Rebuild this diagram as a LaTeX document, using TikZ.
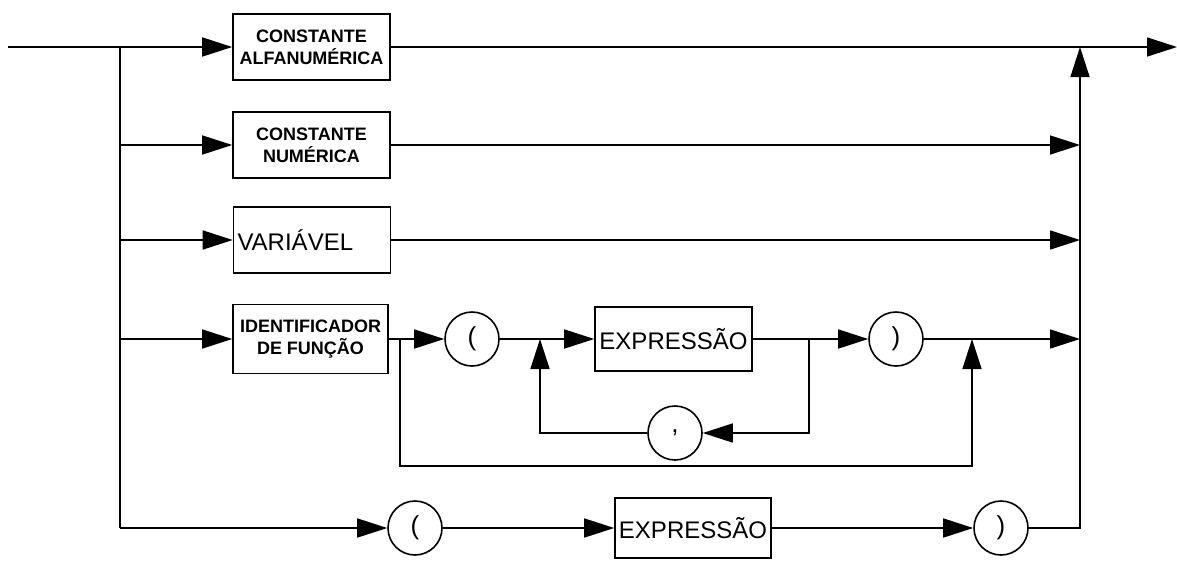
\documentclass[tikz,border=0pt]{standalone}
\usepackage{fontspec}
\setmainfont{Liberation Sans}
\usetikzlibrary{arrows.meta}
\begin{document}
\begin{tikzpicture}[x=1pt,y=-1pt,line width=1.6pt,
  box/.style={draw,rectangle,minimum width=157pt,minimum height=66pt,inner sep=0pt,align=center,font=\bfseries\fontsize{18}{22}\selectfont},
  wbox/.style={box,font=\fontsize{24}{26}\selectfont},
  circ/.style={draw,circle,minimum size=54pt,inner sep=0pt,font=\fontsize{26}{26}\selectfont},
  arr/.style={-{Triangle[length=30pt,width=19pt]}}]
\useasboundingbox (0,0) rectangle (1177,560);
% boxes
\node[box] (b1) at (311.5,47) {CONSTANTE\\ALFANUMÉRICA};
\node[box] (b2) at (311.5,145) {CONSTANTE\\NUMÉRICA};
\node[box,text width=149pt,align=left,font=\fontsize{24}{26}\selectfont] (b3) at (312,240) {VARIÁVEL};
\node[box,minimum height=69pt,minimum width=155pt] (b4) at (310.5,339) {IDENTIFICADOR\\DE FUNÇÃO};
\node[circ] (lp1) at (472,339) {(};
\node[wbox,minimum height=64pt] (e1) at (673.5,339) {EXPRESSÃO};
\node[circ] (rp1) at (896,339) {)};
\node[circ] (cm) at (675,433) {,};
\node[circ] (lp2) at (415,528) {(};
\node[wbox,minimum width=156pt,minimum height=60pt] (e2) at (693,528) {EXPRESSÃO};
\node[circ] (rp2) at (1001,528) {)};
% junctions
\coordinate (start) at (8,47);
\coordinate (L1) at (120,47);
\coordinate (L5) at (120,528);
\coordinate (R1) at (1080,47);
\coordinate (end) at (1177,47);
\coordinate (s0) at (400,339);
\coordinate (j1) at (540,339);
\coordinate (s1) at (809,339);
\coordinate (j2) at (972,339);
% main and left trunk
\draw (start) -- (L1) -- (L5);
\draw[arr] (L1) -- (b1.west);
\draw[arr] (L1 |- b2) -- (b2.west);
\draw[arr] (L1 |- b3) -- (b3.west);
\draw[arr] (L1 |- b4) -- (b4.west);
\draw[arr] (b1.east) -- (end);
\draw[arr] (b2.east) -- (R1 |- b2);
\draw[arr] (b3.east) -- (R1 |- b3);
% function row
\draw[arr] (b4.east) -- (lp1.west);
\draw[arr] (lp1.east) -- (e1.west);
\draw[arr] (e1.east) -- (rp1.west);
\draw[arr] (rp1.east) -- (R1 |- rp1);
\draw[arr] (s1) |- (cm.east);
\draw[arr] (cm.west) -| (j1);
\draw[arr] (s0) -- ++(0,127) -| (j2);
% bottom row
\draw[arr] (L5) -- (lp2.west);
\draw[arr] (lp2.east) -- (e2.west);
\draw[arr] (e2.east) -- (rp2.west);
\draw[arr] (rp2.east) -| (R1);
\end{tikzpicture}
\end{document}
